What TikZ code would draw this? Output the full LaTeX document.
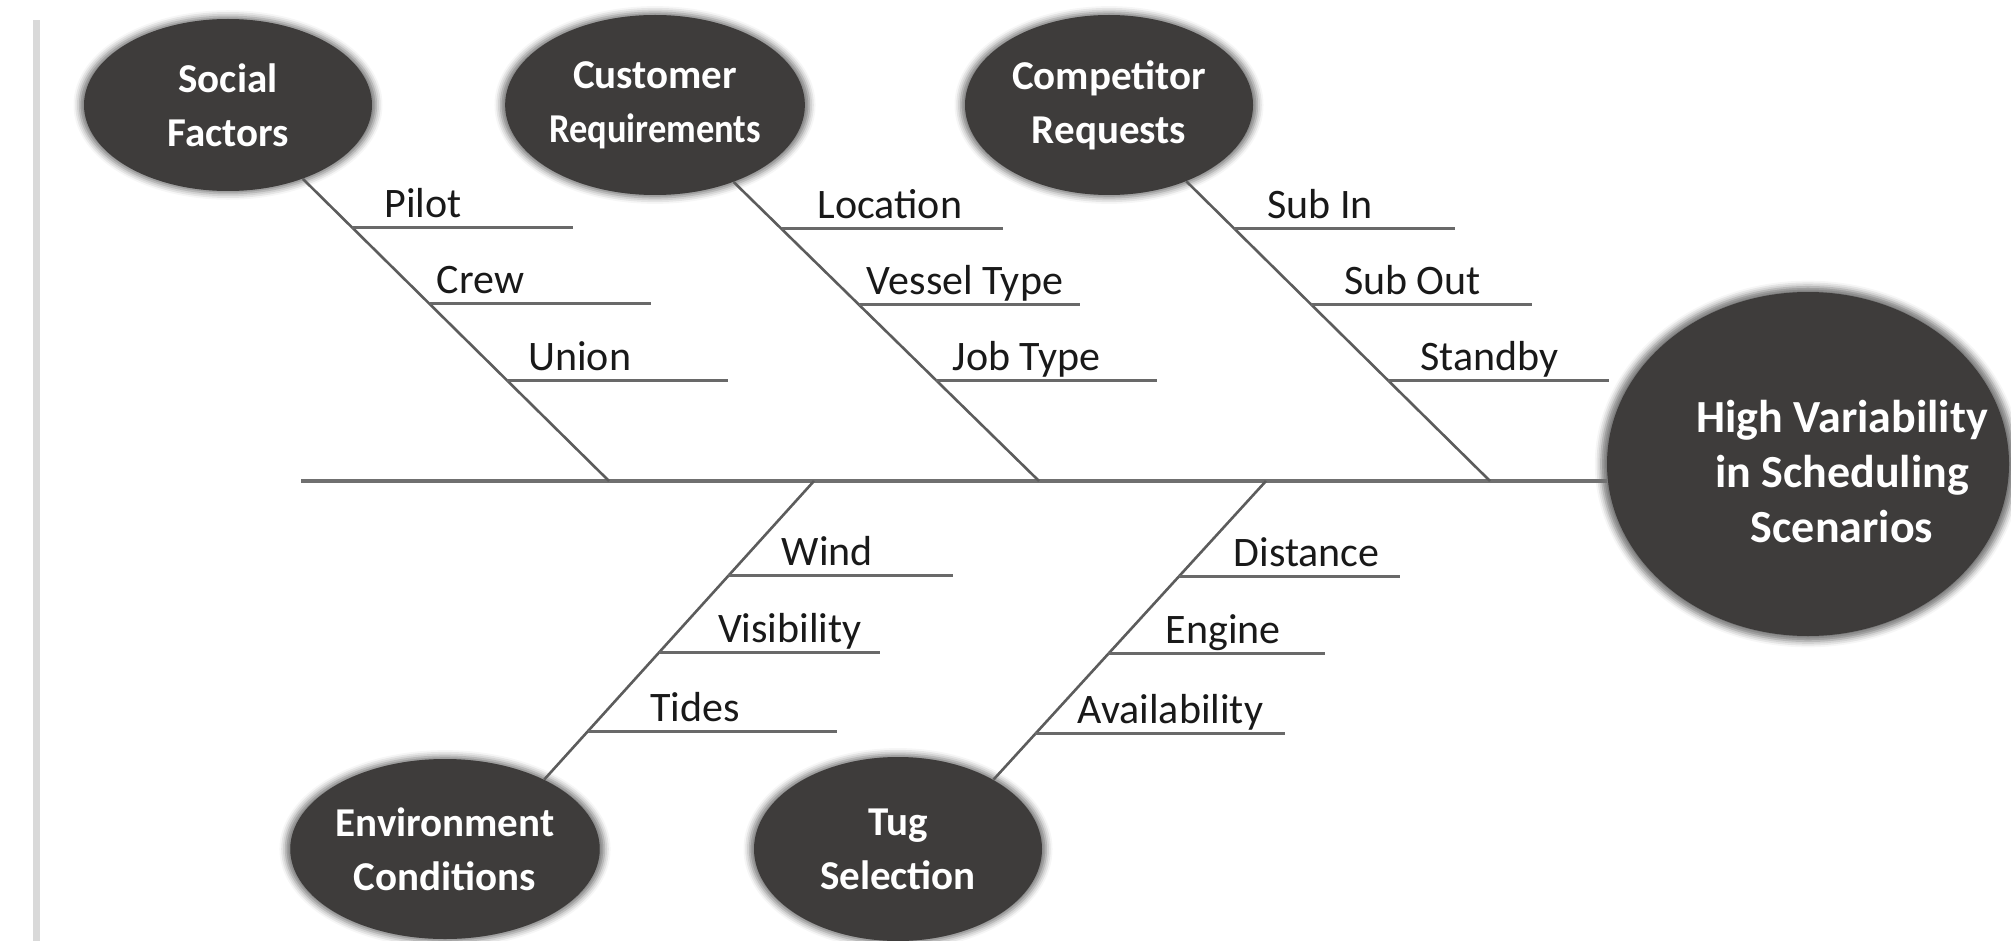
\documentclass[tikz,border=0pt]{standalone}
\usepackage{fontspec}
\usepackage{graphicx}
\setmainfont{Carlito}
\usetikzlibrary{shapes.geometric,shadows.blur}
\definecolor{CauseFill}{RGB}{62,60,59}
\definecolor{SpineGray}{RGB}{112,112,112}
\definecolor{BoneGray}{RGB}{92,92,92}
\definecolor{RibGray}{RGB}{105,105,105}
\definecolor{FrameGray}{RGB}{217,217,217}
\definecolor{RibInk}{RGB}{25,25,25}
\tikzset{
  cause/.style={ellipse,fill=CauseFill,text=white,inner sep=0pt,align=center,
    font=\bfseries\fontsize{20.5}{27}\selectfont,
    minimum width=144pt,minimum height=90pt,
    blur shadow={shadow xshift=0pt,shadow yshift=0pt,shadow scale=1.03,
      shadow blur radius=3pt,shadow opacity=55}},
  effect/.style={cause,minimum width=201pt,minimum height=172pt},
  effecttext/.style={text=white,align=center,inner sep=0pt,
    font=\bfseries\fontsize{23}{27.5}\selectfont},
  spine/.style={line width=2.4pt,SpineGray},
  bone/.style={line width=1.3pt,BoneGray},
  rib/.style={line width=1.5pt,RibGray},
  ribtext/.style={text=RibInk,font=\fontsize{21}{25}\selectfont,anchor=base,
    yshift=5pt,inner sep=0pt}
}

\begin{document}
\begin{tikzpicture}[x=0.5pt,y=-0.5pt]
  \useasboundingbox (0,0) rectangle (2011,941);
  \fill[FrameGray] (33,20) rectangle (40,941);

  % cause heads and effect
  \node[cause,minimum height=86pt] (social) at (228,105) {Social\\Factors};
  \node[cause] (customer) at (655,105) {Customer\\\scalebox{0.89}[1]{Requirements}};
  \node[cause] (competitor) at (1109,105) {Competitor\\Requests};
  \node[cause,minimum width=135pt] (environment) at (445,849) {Environment\\Conditions};
  \node[cause,minimum width=144pt,minimum height=92pt] (tug) at (898,849) {Tug\\Selection};
  \node[effect] (effect) at (1808,464) {};
  \node[effecttext] (effectlbl) at ([xshift=17pt,yshift=-4pt]effect.center)
    {High Variability\\in Scheduling\\Scenarios};

  % spine
  \coordinate (tail) at (301,481);
  \draw[spine] (tail) -- (tail -| effect.west);

  % joints on the spine
  \coordinate (jSocial) at (609,481);
  \coordinate (jCustomer) at (1039,481);
  \coordinate (jCompetitor) at (1490,481);
  \coordinate (jEnvironment) at (814,481);
  \coordinate (jTug) at (1266,481);

  % upper bones
  \draw[bone] (social) -- (jSocial)
    coordinate[pos=.162] (pilot) coordinate[pos=.414] (crew) coordinate[pos=.666] (union);
  \draw[bone] (customer) -- (jCustomer)
    coordinate[pos=.157] (location) coordinate[pos=.41] (vessel) coordinate[pos=.663] (job);
  \draw[bone] (competitor) -- (jCompetitor)
    coordinate[pos=.157] (subin) coordinate[pos=.41] (subout) coordinate[pos=.663] (standby);

  % lower bones
  \draw[bone] (jEnvironment) -- (environment.35)
    coordinate[pos=.318] (wind) coordinate[pos=.573] (visibility) coordinate[pos=.838] (tides);
  \draw[bone] (jTug) -- (tug.36)
    coordinate[pos=.321] (distance) coordinate[pos=.579] (engine) coordinate[pos=.846] (availability);

  % ribs
  \draw[rib] (pilot) -- ++(221,0) node[ribtext,pos=.32] {Pilot};
  \draw[rib] (crew) -- ++(221,0) node[ribtext,pos=.23] {Crew};
  \draw[rib] (union) -- ++(221,0) node[ribtext,pos=.33] {Union};
  \draw[rib] (location) -- ++(221,0) node[ribtext,pos=.49] {Location};
  \draw[rib] (vessel) -- ++(221,0) node[ribtext,pos=.48] {Vessel Type};
  \draw[rib] (job) -- ++(221,0) node[ribtext,pos=.41] {Job Type};
  \draw[rib] (subin) -- ++(221,0) node[ribtext,pos=.39] {Sub In};
  \draw[rib] (subout) -- ++(221,0) node[ribtext,pos=.46] {Sub Out};
  \draw[rib] (standby) -- ++(221,0) node[ribtext,pos=.46] {Standby};
  \draw[rib] (wind) -- ++(225,0) node[ribtext,pos=.44] {Wind};
  \draw[rib] (visibility) -- ++(221,0) node[ribtext,pos=.59] {Visibility};
  \draw[rib] (tides) -- ++(249,0) node[ribtext,pos=.43] {Tides};
  \draw[rib] (distance) -- ++(221,0) node[ribtext,pos=.58] {Distance};
  \draw[rib] (engine) -- ++(217,0) node[ribtext,pos=.53] {Engine};
  \draw[rib] (availability) -- ++(250,0) node[ribtext,pos=.54] {Availability};
\end{tikzpicture}
\end{document}
